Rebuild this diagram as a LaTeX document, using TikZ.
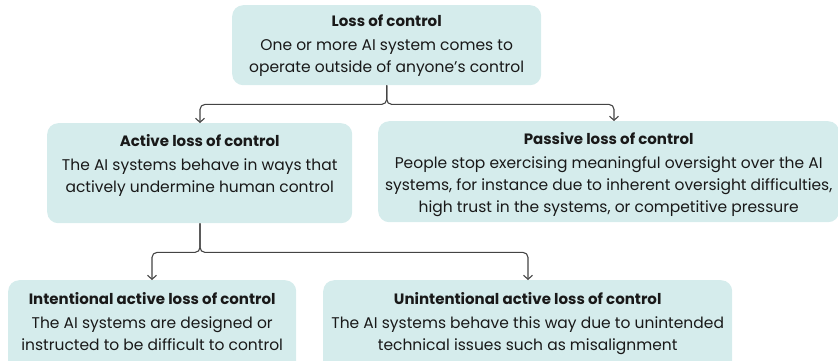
\documentclass[tikz,border=0pt]{standalone}
\usepackage{fontspec}
\setmainfont{Poppins}
\usetikzlibrary{arrows.meta}
\definecolor{boxfill}{HTML}{D5ECEC}
\definecolor{linkgray}{HTML}{444444}
\newcommand{\boxhead}[1]{{\fontsize{15}{22}\selectfont\bfseries #1}}
\tikzset{
  box/.style={fill=boxfill, rounded corners=11pt, inner sep=0pt, anchor=north west},
  txt/.style={anchor=north, align=center, inner sep=0pt, text=black!90,
    font=\fontsize{15.5}{22}\selectfont},
  link/.style={draw=linkgray, line width=1.1pt, rounded corners=5pt,
    -{Straight Barb[length=4pt,width=9pt]}}
}
\begin{document}
\begin{tikzpicture}[x=1pt,y=-1pt]
\useasboundingbox (0,0) rectangle (838,360);
% boxes
\node [box, minimum width=309pt, minimum height=80pt] (loss) at (232,5) {};
\node [box, minimum width=305pt, minimum height=100pt] (active) at (47,123) {};
\node [box, minimum width=461pt, minimum height=101pt] (passive) at (378,121) {};
\node [box, minimum width=288pt, minimum height=100pt] (intent) at (8,280) {};
\node [box, minimum width=409pt, minimum height=100pt] (unintent) at (323,280) {};
% texts
\node [txt] (losstxt) at ([yshift=-10pt]loss.north)
  {\boxhead{Loss of control}\\[2pt] One or more AI system comes to\\ operate outside of anyone’s control};
\node [txt] (activetxt) at ([yshift=-11pt]active.north)
  {\boxhead{Active loss of control}\\[2pt] The AI systems behave in ways that\\ actively undermine human control};
\node [txt] (passivetxt) at ([yshift=-11pt]passive.north)
  {\boxhead{Passive loss of control}\\[2pt] People stop exercising meaningful oversight over the AI\\ systems, for instance due to inherent oversight difficulties,\\ high trust in the systems, or competitive pressure};
\node [txt] (intenttxt) at ([yshift=-12pt]intent.north)
  {\boxhead{Intentional active loss of control}\\[2pt] The AI systems are designed or\\ instructed to be difficult to control};
\node [txt] (unintenttxt) at ([yshift=-12pt]unintent.north)
  {\boxhead{Unintentional active loss of control}\\[2pt] The AI systems behave this way due to unintended\\ technical issues such as misalignment};
% connectors
\draw [link] (loss.south) -- ++(0,19) -| (active.north-|200,0);
\draw [link] (loss.south) -- ++(0,19) -| (passive.north-|614,0);
\draw [link] (active.south-|200,0) -- ++(0,29) -| (intent.north-|152,0);
\draw [link] (active.south-|200,0) -- ++(0,29) -| (unintent.north-|528,0);
\end{tikzpicture}
\end{document}
